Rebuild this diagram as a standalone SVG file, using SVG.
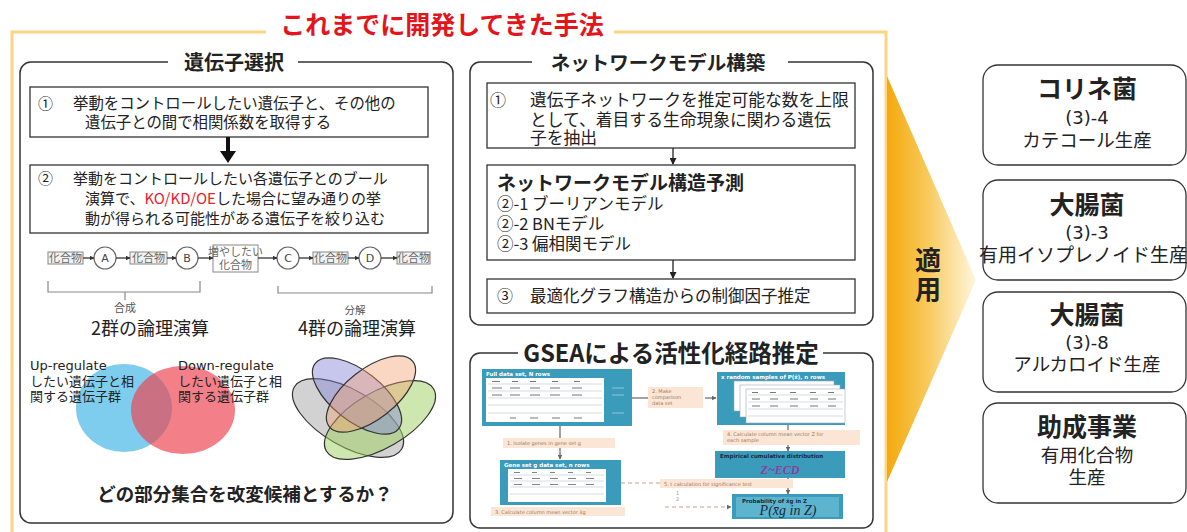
<svg xmlns="http://www.w3.org/2000/svg" width="1187" height="532" viewBox="0 0 1187 532">
<defs>
  <linearGradient id="gApply" x1="0" y1="0" x2="1" y2="0">
    <stop offset="0" stop-color="#F4A90E"/>
    <stop offset="0.45" stop-color="#F8C95A"/>
    <stop offset="1" stop-color="#FFF6E0"/>
  </linearGradient>
  <marker id="arrS" markerWidth="7" markerHeight="7" refX="6" refY="3.5" orient="auto" markerUnits="userSpaceOnUse">
    <path d="M0,0 L7,3.5 L0,7 z" fill="#222"/>
  </marker>
  <marker id="arrT" markerWidth="5" markerHeight="5" refX="4.5" refY="2.5" orient="auto" markerUnits="userSpaceOnUse">
    <path d="M0,0 L5,2.5 L0,5 z" fill="#333"/>
  </marker>
  <marker id="arrG" markerWidth="5" markerHeight="5" refX="4.5" refY="2.5" orient="auto" markerUnits="userSpaceOnUse">
    <path d="M0,0 L5,2.5 L0,5 z" fill="#666"/>
  </marker>
</defs>
<style>
  text{font-family:"DejaVu Sans","Noto Sans CJK JP",sans-serif;fill:#222}
  .jp{font-family:"Noto Sans CJK JP",sans-serif}
  .b{font-weight:700}
  .panel{fill:#fff;stroke:#333;stroke-width:1.5}
  .box{fill:#fff;stroke:#333;stroke-width:1.3}
  .rbox{fill:#fff;stroke:#333;stroke-width:1.3}
  .cmp{fill:#f2f2f2;stroke:#888;stroke-width:1}
  .cmpt{font-size:11px;fill:#666}
  .circ{fill:#fff;stroke:#666;stroke-width:1.2}
  .circt{font-size:11px;fill:#444}
  .flow{stroke:#333;stroke-width:1.3;fill:none}
  .brk{stroke:#888;stroke-width:1.2;fill:none}
  .teal{fill:#3A9BBB}
  .peach{fill:#FBE6D6}
  .tw{font-size:5.5px;fill:#fff;font-weight:700}
  .tl{font-size:5px;fill:#9a7a60}
  .tbl{fill:#fff}
  .row{stroke:#b8c8d0;stroke-width:0.6}
</style>

<!-- outer frame and title -->
<g id="frame">
  <path d="M266 32 H12 V532 M614 32 H886 V532" fill="none" stroke="#FDD484" stroke-width="3"/>
  <text x="442" y="34" font-size="25" class="jp b" text-anchor="middle" style="fill:#E3141C">これまでに開発してきた手法</text>
</g>

<g id="apply">
  <polygon points="887,76 976,280 887,482" fill="url(#gApply)"/>
  <text x="928" y="270" font-size="26" class="jp b" text-anchor="middle">適</text>
  <text x="928" y="299" font-size="26" class="jp b" text-anchor="middle">用</text>
</g>

<!-- Left panel: gene selection -->
<g id="gene-selection">
  <rect x="20" y="62" width="433" height="461" rx="11" class="panel"/>
  <rect x="168" y="55" width="130" height="14" fill="#fff"/>
  <text x="234" y="70" font-size="20" class="jp b" text-anchor="middle">遺伝子選択</text>

  <g id="gs-step1">
    <rect x="30" y="87" width="398" height="50" class="box"/>
    <text x="38" y="109" font-size="15" class="jp">①</text>
    <text x="73" y="109" font-size="15.4" class="jp">挙動をコントロールしたい遺伝子と、その他の</text>
    <text x="85" y="128" font-size="15.4" class="jp">遺伝子との間で相関係数を取得する</text>
  </g>

  <g id="gs-step2">
    <rect x="30" y="165" width="398" height="68" class="box"/>
    <text x="38" y="184" font-size="15" class="jp">②</text>
    <text x="73" y="184" font-size="15" class="jp">挙動をコントロールしたい各遺伝子とのブール</text>
    <text x="85" y="204" font-size="15" class="jp">演算で、<tspan style="fill:#E8202A">KO/KD/OE</tspan>した場合に望み通りの挙</text>
    <text x="85" y="224" font-size="15" class="jp">動が得られる可能性がある遺伝子を絞り込む</text>
  </g>

  <g id="pathway">
    <rect x="48" y="252" width="35" height="12" class="cmp"/>
    <text x="65.5" y="262" class="cmpt jp" text-anchor="middle">化合物</text>
    <circle cx="105" cy="258" r="11" class="circ"/>
    <text x="105" y="262" class="circt" text-anchor="middle">A</text>
    <rect x="130" y="252" width="37" height="12" class="cmp"/>
    <text x="148.5" y="262" class="cmpt jp" text-anchor="middle">化合物</text>
    <circle cx="187" cy="258" r="11" class="circ"/>
    <text x="187" y="262" class="circt" text-anchor="middle">B</text>
    <rect x="213" y="245" width="45" height="27" class="cmp" style="fill:#fff"/>
    <text x="235.5" y="256" class="cmpt jp" text-anchor="middle">増やしたい</text>
    <text x="235.5" y="269" class="cmpt jp" text-anchor="middle">化合物</text>
    <circle cx="288" cy="258" r="11" class="circ"/>
    <text x="288" y="262" class="circt" text-anchor="middle">C</text>
    <rect x="313" y="252" width="35" height="12" class="cmp"/>
    <text x="330.5" y="262" class="cmpt jp" text-anchor="middle">化合物</text>
    <circle cx="370" cy="258" r="11" class="circ"/>
    <text x="370" y="262" class="circt" text-anchor="middle">D</text>
    <rect x="397" y="252" width="33" height="12" class="cmp"/>
    <text x="413.5" y="262" class="cmpt jp" text-anchor="middle">化合物</text>
  </g>

  <g id="pathway-arrows">
    <line x1="83" y1="258" x2="94" y2="258" class="flow" marker-end="url(#arrT)"/>
    <line x1="116" y1="258" x2="130" y2="258" class="flow" marker-end="url(#arrT)"/>
    <line x1="167" y1="258" x2="176" y2="258" class="flow" marker-end="url(#arrT)"/>
    <line x1="198" y1="258" x2="213" y2="258" class="flow" marker-end="url(#arrT)"/>
    <line x1="258" y1="258" x2="277" y2="258" class="flow" marker-end="url(#arrT)"/>
    <line x1="299" y1="258" x2="313" y2="258" class="flow" marker-end="url(#arrT)"/>
    <line x1="348" y1="258" x2="359" y2="258" class="flow" marker-end="url(#arrT)"/>
    <line x1="381" y1="258" x2="397" y2="258" class="flow" marker-end="url(#arrT)"/>
  </g>

  <g id="brackets">
    <path d="M48 281 V292 H200 V281 M125 292 V300" class="brk"/>
    <text x="125" y="312" font-size="11" class="jp" text-anchor="middle" style="fill:#555">合成</text>
    <path d="M278 286 V293 H432 V286" class="brk"/>
    <text x="355" y="314" font-size="10.5" class="jp" text-anchor="middle" style="fill:#555">分解</text>
    <text x="150" y="335" font-size="18" class="jp" text-anchor="middle">2群の論理演算</text>
    <text x="357" y="335" font-size="18" class="jp" text-anchor="middle">4群の論理演算</text>
  </g>

  <g id="venn2">
    <ellipse cx="124" cy="408" rx="48" ry="44" fill="#7ECCEE"/>
    <ellipse cx="183" cy="410" rx="52" ry="44" fill="#EE4450" fill-opacity="0.68"/>
    <text x="30" y="370" font-size="13">Up-regulate</text>
    <text x="30" y="386" font-size="13" class="jp">したい遺伝子と相</text>
    <text x="30" y="401" font-size="13" class="jp">関する遺伝子群</text>
    <text x="178" y="370" font-size="13">Down-regulate</text>
    <text x="178" y="386" font-size="13" class="jp">したい遺伝子と相</text>
    <text x="178" y="401" font-size="13" class="jp">関する遺伝子群</text>
  </g>

  <g id="venn4" stroke="#333" stroke-width="1.2">
    <ellipse cx="348" cy="418" rx="62" ry="28" transform="rotate(30 348 418)" fill="#8E8E8E" fill-opacity="0.4"/>
    <ellipse cx="380" cy="420" rx="62" ry="28" transform="rotate(-30 380 420)" fill="#9ED060" fill-opacity="0.5"/>
    <ellipse cx="357" cy="396" rx="53" ry="25" transform="rotate(38 357 396)" fill="#8383DA" fill-opacity="0.45"/>
    <ellipse cx="371" cy="394" rx="53" ry="25" transform="rotate(-38 371 394)" fill="#F2A070" fill-opacity="0.42"/>
  </g>

  <text x="245" y="501" font-size="18.5" class="jp b" text-anchor="middle">どの部分集合を改変候補とするか？</text>
</g>

<!-- Network model panel -->
<g id="network-model">
  <rect x="470" y="62" width="403" height="263" rx="10" class="panel"/>
  <rect x="532" y="55" width="256" height="14" fill="#fff"/>
  <text x="658" y="70" font-size="19.5" class="jp b" text-anchor="middle">ネットワークモデル構築</text>

  <g id="nm-step1">
    <rect x="487" y="83" width="368" height="65" class="box"/>
    <text x="490" y="106" font-size="16" class="jp">①</text>
    <text x="530" y="106" font-size="16.8" class="jp">遺伝子ネットワークを推定可能な数を上限</text>
    <text x="530" y="126" font-size="16.8" class="jp">として、着目する生命現象に関わる遺伝</text>
    <text x="530" y="144" font-size="16.8" class="jp">子を抽出</text>
  </g>
  <g id="nm-step2">
    <rect x="487" y="165" width="368" height="95" class="box"/>
    <text x="497" y="190" font-size="19" class="jp b">ネットワークモデル構造予測</text>
    <text x="497" y="210" font-size="16.5" class="jp">②-1 ブーリアンモデル</text>
    <text x="497" y="230" font-size="16.5" class="jp">②-2 BNモデル</text>
    <text x="497" y="250" font-size="16.5" class="jp">②-3 偏相関モデル</text>
  </g>
  <g id="nm-step3">
    <rect x="487" y="279" width="368" height="34" class="box"/>
    <text x="497" y="302" font-size="16" class="jp">③</text>
    <text x="530" y="302" font-size="16.5" class="jp">最適化グラフ構造からの制御因子推定</text>
  </g>
</g>

<!-- GSEA panel -->
<g id="gsea">
  <rect x="470" y="353" width="403" height="175" rx="10" class="panel"/>
  <rect x="518" y="345" width="305" height="14" fill="#fff"/>
  <text x="671" y="362" font-size="23.5" class="jp b" text-anchor="middle">GSEAによる活性化経路推定</text>

  <g id="gsea-full">
    <rect x="482" y="369" width="150" height="57" class="teal"/>
    <text x="486" y="375.5" class="tw">Full data set, N rows</text>
    <rect x="486" y="378" width="118" height="44" class="tbl"/>
    <path d="M488 384 H602 M488 391 H602 M488 398 H602 M488 405 H602 M488 413 H602" class="row"/>
    <path d="M492 381.5 h8 M512 381.5 h6 M530 381.5 h6 M552 381.5 h6 M574 381.5 h6 M492 388 h10 M510 388 h10 M530 388 h10 M550 388 h10 M572 388 h10 M492 395 h10 M510 395 h10 M530 395 h10 M550 395 h10 M572 395 h10 M510 418 h6 M530 418 h8 M552 418 h8 M574 418 h8" stroke="#777" stroke-width="1"/>
    <path d="M612 388 h12 M612 395 h12 M612 413 h12" stroke="#8fc4d6" stroke-width="1.2"/>
  </g>
  <g id="gsea-make">
    <rect x="648" y="387" width="55" height="21" class="peach"/>
    <text x="652" y="393" class="tl">2. Make</text>
    <text x="652" y="399" class="tl">comparison</text>
    <text x="652" y="405" class="tl">data set</text>
  </g>
  <g id="gsea-random">
    <rect x="717" y="372" width="128" height="53" class="teal"/>
    <text x="721" y="378.5" class="tw">x random samples of P(x̄), n rows</text>
    <rect x="734" y="381" width="100" height="30" fill="#fff" stroke="#9ab" stroke-width="0.6"/>
    <rect x="740" y="385" width="100" height="32" fill="#fff" stroke="#9ab" stroke-width="0.6"/>
    <rect x="746" y="389" width="99" height="34" fill="#fff" stroke="#9ab" stroke-width="0.6"/>
    <path d="M748 395 H843 M748 402 H843 M748 409 H843 M748 416 H843" class="row"/>
    <path d="M752 392.5 h6 M770 392.5 h6 M790 392.5 h6 M810 392.5 h6 M828 392.5 h6 M752 399 h8 M770 399 h8 M790 399 h8 M810 399 h8 M828 399 h8 M752 406 h8 M770 406 h8 M790 406 h8 M810 406 h8 M828 406 h8" stroke="#777" stroke-width="1"/>
  </g>
  <g id="gsea-calc4">
    <rect x="723" y="430" width="137" height="15" class="peach"/>
    <text x="727" y="436" class="tl">4. Calculate column mean vector Z for</text>
    <text x="727" y="442" class="tl">each sample</text>
  </g>
  <g id="gsea-ecd">
    <rect x="715" y="451" width="130" height="27" class="teal"/>
    <text x="720" y="458" font-size="5.5" class="b" style="fill:#1a2a40">Empirical cumulative distribution</text>
    <text x="780" y="474" font-size="12" text-anchor="middle" style="fill:#8A3FA0;font-family:'Liberation Serif',serif;font-style:italic;font-weight:700">Z~ECD</text>
  </g>
  <g id="gsea-t">
    <rect x="660" y="479" width="133" height="9" class="peach"/>
    <text x="664" y="485.5" class="tl">5. t calculation for significance test</text>
    <text x="676" y="495" font-size="5" style="fill:#999">1</text>
    <text x="676" y="501" font-size="5" style="fill:#999">2</text>
  </g>
  <g id="gsea-prob">
    <rect x="732" y="494" width="111" height="25" class="teal"/>
    <rect x="736" y="497" width="103" height="20" fill="#5DB4CE"/>
    <text x="742" y="503" font-size="5.5" class="b" style="fill:#1a2a40">Probability of x̄g in Z</text>
    <text x="788" y="515" font-size="14" text-anchor="middle" style="fill:#1a2a40;font-family:'Liberation Serif',serif;font-style:italic">P(x̄g in Z)</text>
  </g>
  <g id="gsea-isolate">
    <rect x="503" y="438" width="112" height="10" class="peach"/>
    <text x="507" y="445" class="tl">1. Isolate genes in gene set g</text>
  </g>
  <g id="gsea-geneset">
    <rect x="500" y="460" width="121" height="45" class="teal"/>
    <text x="504" y="466.5" class="tw">Gene set g data set, n rows</text>
    <rect x="508" y="469" width="98" height="33" class="tbl"/>
    <path d="M510 475 H604 M510 481 H604 M510 487 H604 M510 494 H604" class="row"/>
    <path d="M514 472.5 h6 M532 472.5 h5 M550 472.5 h5 M568 472.5 h5 M586 472.5 h5 M514 478.5 h8 M532 478.5 h8 M550 478.5 h8 M568 478.5 h8 M586 478.5 h8 M514 484.5 h8 M532 484.5 h8 M550 484.5 h8 M568 484.5 h8 M586 484.5 h8" stroke="#777" stroke-width="0.9"/>
  </g>
  <g id="gsea-calc3">
    <rect x="491" y="507" width="134" height="9" class="peach"/>
    <text x="495" y="513.5" class="tl">3. Calculate column mean vector x̄g</text>
  </g>
</g>

<!-- connectors -->
<g id="connectors">
  <line x1="228" y1="137" x2="228" y2="152" stroke="#111" stroke-width="4"/>
  <path d="M220 151 L236 151 L228 163 z" fill="#111"/>
  <line x1="673" y1="148" x2="673" y2="164" stroke="#222" stroke-width="1.3" marker-end="url(#arrS)"/>
  <line x1="673" y1="260" x2="673" y2="278" stroke="#222" stroke-width="1.3" marker-end="url(#arrS)"/>
  <line x1="632" y1="398" x2="648" y2="398" stroke="#666" stroke-width="1.2"/>
  <line x1="705" y1="398" x2="716" y2="398" stroke="#666" stroke-width="1.2" marker-end="url(#arrG)"/>
  <line x1="560" y1="426" x2="560" y2="438" stroke="#666" stroke-width="1.2"/>
  <line x1="560" y1="448" x2="560" y2="459" stroke="#666" stroke-width="1.2" marker-end="url(#arrG)"/>
  <line x1="788" y1="425" x2="788" y2="430" stroke="#666" stroke-width="1.2"/>
  <line x1="788" y1="445" x2="788" y2="451" stroke="#666" stroke-width="1.2" marker-end="url(#arrG)"/>
  <line x1="788" y1="478" x2="788" y2="479" stroke="#666" stroke-width="1.2"/>
  <line x1="788" y1="488" x2="788" y2="494" stroke="#666" stroke-width="1.2" marker-end="url(#arrG)"/>
  <line x1="621" y1="483" x2="660" y2="483" stroke="#C9A27E" stroke-width="1.2" stroke-dasharray="4 3"/>
  <line x1="665" y1="507" x2="731" y2="507" stroke="#C9A27E" stroke-width="1.2" stroke-dasharray="4 3" marker-end="url(#arrG)"/>
</g>

<!-- right application boxes -->
<g id="app-coryne">
  <rect x="983" y="65" width="203" height="100" rx="15" class="rbox"/>
  <text x="1087" y="98" font-size="25" class="jp b" text-anchor="middle">コリネ菌</text>
  <text x="1087" y="124" font-size="18" text-anchor="middle">(3)-4</text>
  <text x="1087" y="147" font-size="18.5" class="jp" text-anchor="middle">カテコール生産</text>
</g>
<g id="app-ecoli-1">
  <rect x="983" y="180" width="203" height="100" rx="15" class="rbox"/>
  <text x="1087" y="214" font-size="25" class="jp b" text-anchor="middle">大腸菌</text>
  <text x="1087" y="239" font-size="18" text-anchor="middle">(3)-3</text>
  <text x="979" y="262" font-size="19" class="jp">有用イソプレノイド生産</text>
</g>
<g id="app-ecoli-2">
  <rect x="983" y="292" width="203" height="100" rx="15" class="rbox"/>
  <text x="1087" y="324" font-size="25" class="jp b" text-anchor="middle">大腸菌</text>
  <text x="1087" y="349" font-size="18" text-anchor="middle">(3)-8</text>
  <text x="1087" y="371" font-size="18.5" class="jp" text-anchor="middle">アルカロイド生産</text>
</g>
<g id="app-grant">
  <rect x="983" y="403" width="203" height="100" rx="15" class="rbox"/>
  <text x="1087" y="436" font-size="25" class="jp b" text-anchor="middle">助成事業</text>
  <text x="1087" y="462" font-size="18.5" class="jp" text-anchor="middle">有用化合物</text>
  <text x="1087" y="484" font-size="18.5" class="jp" text-anchor="middle">生産</text>
</g>
</svg>
